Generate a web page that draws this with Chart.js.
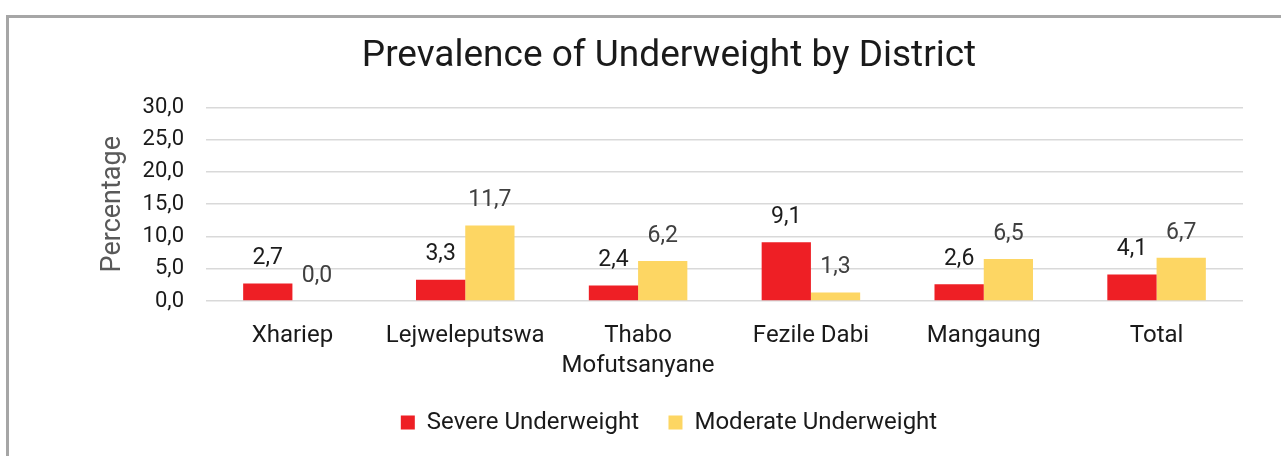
<!DOCTYPE html>
<html>
<head>
<meta charset="utf-8">
<script src="https://cdn.jsdelivr.net/npm/chart.js@4"></script>
<style>
  html, body { margin: 0; padding: 0; background: #ffffff; }
  body { width: 1281px; height: 456px; position: relative; overflow: hidden; }
  #frame { position: absolute; left: 6px; top: 15px; width: 1400px; height: 600px;
           border: 3px solid #a6a6a6; box-sizing: border-box; }
  #wrap { position: absolute; left: 0; top: 0; width: 1281px; height: 456px; }
</style>
</head>
<body>
<div id="frame"></div>
<div id="wrap"><canvas id="chart" width="1281" height="456"></canvas></div>
<script>
// Districts shown along the x axis
const districts = ['Xhariep', 'Lejweleputswa', ['Thabo', 'Mofutsanyane'], 'Fezile Dabi', 'Mangaung', 'Total'];
// Prevalence (%) per district
const severeUnderweight = [2.7, 3.3, 2.4, 9.1, 2.6, 4.1];
const moderateUnderweight = [0.0, 11.7, 6.2, 1.3, 6.5, 6.7];
// Y axis tick values
const yTicks = [0, 5, 10, 15, 20, 25, 30];

const FONT = 'Roboto, "Liberation Sans", sans-serif';
const fmt = v => v.toFixed(1).replace('.', ',');

// Writes each bar's value above it
const valueLabels = {
  id: 'valueLabels',
  afterDatasetsDraw(chart) {
    const ctx = chart.ctx;
    ctx.save();
    ctx.font = '23px ' + FONT;
    ctx.textAlign = 'center';
    ctx.textBaseline = 'middle';
    chart.data.datasets.forEach((ds, i) => {
      const meta = chart.getDatasetMeta(i);
      ctx.fillStyle = ds.labelColor;
      meta.data.forEach((bar, j) => {
        ctx.fillText(fmt(ds.data[j]), bar.x, bar.y - 25);
      });
    });
    ctx.restore();
  }
};

new Chart(document.getElementById('chart'), {
  type: 'bar',
  data: {
    labels: districts,
    datasets: [
      { label: 'Severe Underweight', data: severeUnderweight, backgroundColor: '#ee1f25', labelColor: '#1c1c1c' },
      { label: 'Moderate Underweight', data: moderateUnderweight, backgroundColor: '#fdd663', labelColor: '#404040' }
    ]
  },
  options: {
    responsive: false,
    animation: false,
    categoryPercentage: 0.57,
    barPercentage: 1.0,
    layout: { padding: { left: 95, right: 38, top: 0, bottom: 11.5 } },
    plugins: {
      title: {
        display: true,
        text: 'Prevalence of Underweight by District',
        color: '#1a1a1a',
        font: { family: FONT, size: 37, weight: 'normal', lineHeight: 1.2 },
        padding: { top: 35, bottom: 28 }
      },
      legend: {
        position: 'bottom',
        labels: {
          color: '#1a1a1a',
          font: { family: FONT, size: 24 },
          boxWidth: 14,
          boxHeight: 14,
          padding: 29.5
        }
      },
      tooltip: { enabled: false }
    },
    scales: {
      x: {
        grid: { display: false, drawTicks: false },
        border: { display: false },
        ticks: { color: '#1a1a1a', font: { family: FONT, size: 24, lineHeight: 1.25 }, padding: 20, maxRotation: 0, autoSkip: false },
        afterFit(scale) { scale.height = 80; }
      },
      y: {
        min: 0,
        max: 30,
        afterBuildTicks(scale) { scale.ticks = yTicks.map(v => ({ value: v })); },
        grid: { color: '#d9d9d9', lineWidth: 1.5, drawTicks: false },
        border: { display: false },
        ticks: { color: '#1a1a1a', font: { family: FONT, size: 22 }, padding: 22, callback: v => fmt(v) },
        title: {
          display: true,
          text: 'Percentage',
          color: '#595959',
          font: { family: FONT, size: 27 },
          padding: { top: 2, bottom: 0 }
        },
        afterFit(scale) { scale.width = 111; }
      }
    }
  },
  plugins: [valueLabels]
});
</script>
</body>
</html>
